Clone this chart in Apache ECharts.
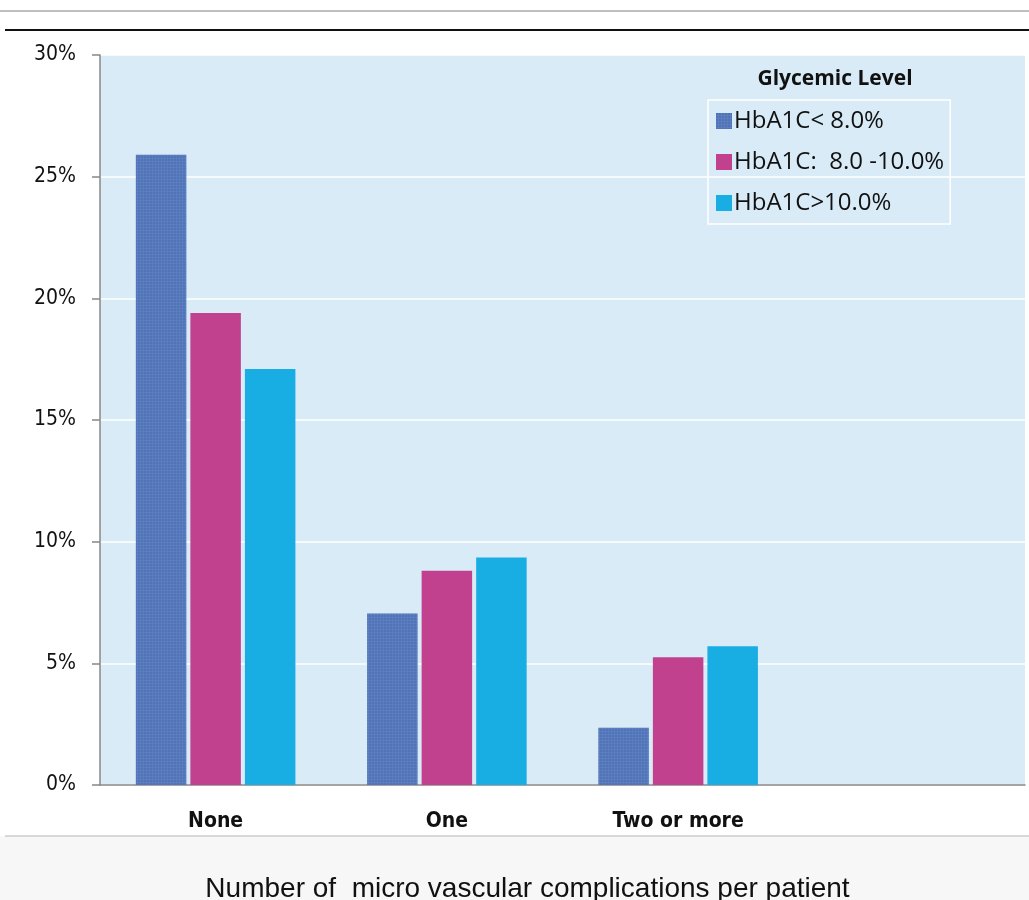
<!DOCTYPE html>
<html>
<head>
<meta charset="utf-8">
<script src="https://cdn.jsdelivr.net/npm/echarts@6/dist/echarts.min.js"></script>
<style>
  html, body { margin: 0; padding: 0; background: #fff; }
  #chart { width: 1029px; height: 900px; }
</style>
</head>
<body>
<div id="chart"></div>
<script>
// categories on the x axis (last slot is empty in the original)
const categories = ["None", "One", "Two or more", ""];
const yTicks = [0, 5, 10, 15, 20, 25, 30];

// percentages
const lowHbA1c = [25.9, 7.05, 2.35, null];
const midHbA1c = [19.4, 8.8, 5.25, null];
const highHbA1c = [17.1, 9.35, 5.7, null];

const seriesNames = ["HbA1C< 8.0%", "HbA1C:  8.0 -10.0%", "HbA1C>10.0%"];
const colors = ["#5b7ec0", "#c2418f", "#19aee3"];

const narrow = "'DejaVu Sans Condensed', 'Liberation Sans', sans-serif";

const chart = echarts.init(document.getElementById("chart"));

const option = {
    animation: false,
    textStyle: { fontFamily: "Liberation Sans" },
    graphic: [
        // thin rules above the chart and the shaded band under it
        { type: "line", shape: { x1: 0, y1: 11, x2: 1029, y2: 11 }, style: { stroke: "#aaa", lineWidth: 1.5 } },
        { type: "line", shape: { x1: 5, y1: 30, x2: 1029, y2: 30 }, style: { stroke: "#111", lineWidth: 2 } },
        { type: "rect", shape: { x: 0, y: 836, width: 1029, height: 64 }, style: { fill: "#f7f7f7" }, z: -1 },
        { type: "line", shape: { x1: 5, y1: 836, x2: 1029, y2: 836 }, style: { stroke: "#ccc", lineWidth: 1.5 } }
    ],
    title: {
        text: "Glycemic Level",
        left: 830,
        top: 64,
        textAlign: "center",
        textStyle: { fontSize: 21, fontWeight: "bold", color: "#111", fontFamily: "Open Sans" }
    },
    legend: {
        orient: "vertical",
        left: 708,
        top: 100,
        icon: "rect",
        itemWidth: 16,
        itemHeight: 16,
        itemGap: 17,
        padding: [9, 6, 9, 8],
        borderColor: "#ffffff",
        borderWidth: 1.5,
        textStyle: { fontSize: 24, color: "#111", fontFamily: "Open Sans", padding: [0, 0, 0, -3] },
        data: seriesNames
    },
    grid: {
        left: 100, right: 4, top: 55, bottom: 115,
        outerBoundsMode: "none",
        show: true, backgroundColor: "#d8ebf7", borderWidth: 0
    },
    xAxis: {
        type: "category",
        data: categories,
        name: "Number of  micro vascular complications per patient",
        nameLocation: "middle",
        nameGap: 90,
        nameTextStyle: { fontSize: 28, color: "#111", fontFamily: "Liberation Sans", padding: [0, 70, 0, 0] },
        axisLine: { lineStyle: { color: "#888", width: 1.5 } },
        axisTick: { length: 9, lineStyle: { color: "#888", width: 1.5 } },
        axisLabel: { fontSize: 21, fontWeight: "bold", color: "#111", margin: 26, fontFamily: narrow }
    },
    yAxis: {
        type: "value",
        min: 0,
        max: 30,
        interval: 5,
        axisLine: { show: true, lineStyle: { color: "#888", width: 1.5 } },
        axisTick: { show: true, length: 8, lineStyle: { color: "#888", width: 1.5 } },
        axisLabel: {
            fontSize: 21,
            color: "#111",
            margin: 24,
            fontFamily: narrow,
            formatter: v => (yTicks.includes(v) ? v + "%" : "")
        },
        splitLine: { lineStyle: { color: "#ffffff", width: 1.5 } }
    },
    series: [
        {
            name: seriesNames[0],
            type: "bar",
            data: lowHbA1c,
            barGap: "8%",
            barCategoryGap: "31%",
            itemStyle: {
                color: colors[0],
                decal: {
                    symbol: "rect",
                    symbolSize: 0.7,
                    dashArrayX: [2, 1],
                    dashArrayY: [2, 1],
                    color: "rgba(40, 70, 140, 0.35)"
                }
            }
        },
        { name: seriesNames[1], type: "bar", data: midHbA1c, itemStyle: { color: colors[1] } },
        { name: seriesNames[2], type: "bar", data: highHbA1c, itemStyle: { color: colors[2] } }
    ]
};

chart.setOption(option);
</script>
</body>
</html>
